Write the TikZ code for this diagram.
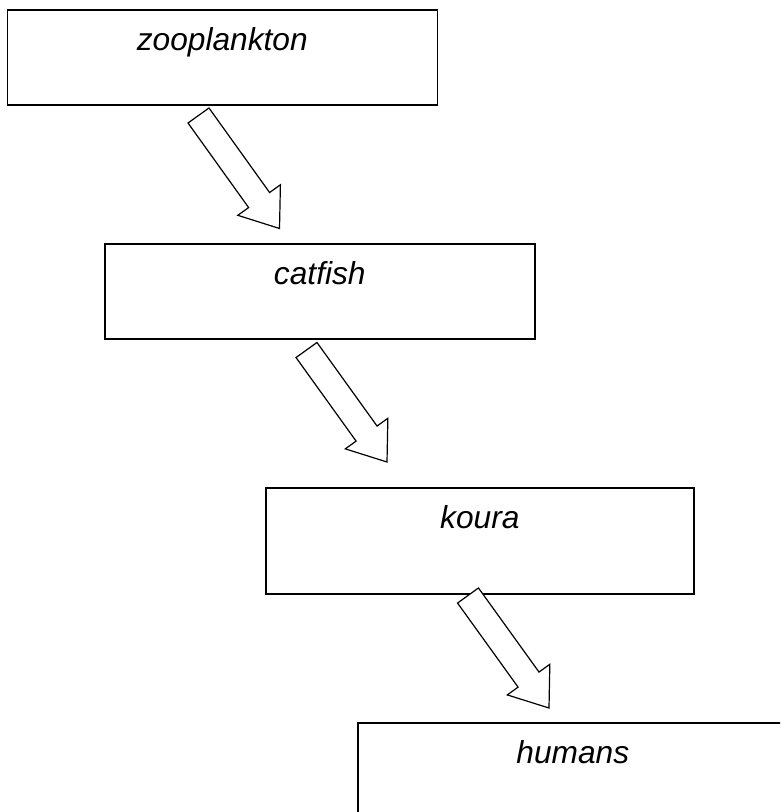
\documentclass[tikz,border=0pt]{standalone}
\usepackage{fontspec}
\setmainfont{Liberation Sans}
\usetikzlibrary{calc}

\begin{document}
\begin{tikzpicture}[x=0.5pt,y=-0.5pt,
  box/.style={draw,line width=0.8pt,anchor=north west,inner sep=0pt,
              font=\fontsize{15.85pt}{19pt}\selectfont\itshape,
              minimum width=215pt,text height=20.5pt,text depth=27pt},
  foodarrow/.style={draw,fill=white,line width=0.6pt,line join=miter,
    to path={($(\tikztotarget)!17.5pt!(\tikztostart)$) coordinate (hb)
      ($(\tikztostart)!6.45pt!90:(\tikztotarget)$)
      -- ($(hb)!6.45pt!90:(\tikztotarget)$)
      -- ($(hb)!13.1pt!90:(\tikztotarget)$)
      -- (\tikztotarget)
      -- ($(hb)!13.1pt!-90:(\tikztotarget)$)
      -- ($(hb)!6.45pt!-90:(\tikztotarget)$)
      -- ($(\tikztostart)!6.45pt!-90:(\tikztotarget)$) -- cycle}}]
\clip (0,0) rectangle (780,812);

\node[box] (zoo)     at (6.5,9)  {zooplankton};
\node[box] (catfish) at (104,243) {catfish};
\node[box,minimum width=214pt,text depth=32.5pt] (koura) at (265,487) {koura};
\node[box] (humans)  at (357,722) {humans};

% arrow ends
\coordinate (a1s) at (198.5,115.5); \coordinate (a1e) at (279.5,228.5);
\coordinate (a2s) at (306.5,350);   \coordinate (a2e) at (387,462);
\coordinate (a3s) at (468,595.5);   \coordinate (a3e) at (549,708);

\draw[foodarrow] (a1s) to (a1e);
\draw[foodarrow] (a2s) to (a2e);
\draw[foodarrow] (a3s) to (a3e);
\end{tikzpicture}
\end{document}
